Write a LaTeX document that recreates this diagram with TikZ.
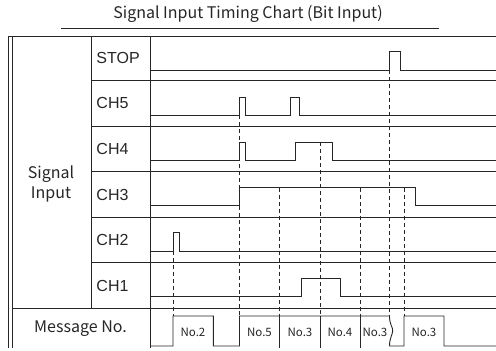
\documentclass[tikz,border=0pt]{standalone}
\usepackage{fontspec}
\setmainfont{Liberation Sans}
\newfontfamily\jpfont{Noto Sans CJK JP}
\usetikzlibrary{positioning,calc}

\tikzset{
  chname/.style={anchor=west,inner sep=0pt,font=\fontsize{16}{16}\selectfont},
  jpname/.style={inner sep=0pt,align=center,font=\jpfont\fontsize{16}{20}\selectfont},
  msgno/.style={inner sep=0pt,font=\jpfont\fontsize{11.5}{12}\selectfont},
  sync/.style={line width=.7pt,dash pattern=on 4pt off 3pt}
}

\begin{document}
\begin{tikzpicture}[x=1pt,y=-1pt,line width=.9pt,color=black!85]

  \useasboundingbox (0,0) rectangle (496,351);

  \node[jpname] (title) at (248,14) {Signal Input Timing Chart (Bit Input)};
  \coordinate (u0) at (61,28);
  \coordinate (u1) at (439,28);
  \draw[] (u0)--(u1);

  % frame
  \draw[] (8,36)--(8,348);
  \draw[] (12,36)--(12,348);
  \draw[] (8,36)--(496,36);
  \draw[] (91,36)--(91,308);
  \draw[] (150,36)--(150,348);
  \foreach \y in {80,126,171.5,217,262.5}
    \draw[] (91,\y)--(496,\y);
  \draw[] (12,308)--(496,308);

  \node[jpname] (sig) at (51,183.5) {Signal\\Input};
  \node[jpname] (msg) at (80.5,329) {Message No.};

  \node[chname] (stop) at (96,58) {STOP};
  \node[chname] (ch5) at (96,103) {CH5};
  \node[chname] (ch4) at (96,149) {CH4};
  \node[chname] (ch3) at (96,194.5) {CH3};
  \node[chname] (ch2) at (96,240) {CH2};
  \node[chname] (ch1) at (96,285.5) {CH1};

  % waveforms
  \draw[] (150,70)--(389.5,70)--(389.5,51)--(400,51)--(400,70)--(496,70);
  \draw[] (150,115)--(239.5,115)--(239.5,97)--(245.7,97)--(245.7,115)
    --(290,115)--(290,97)--(299,97)--(299,115)--(496,115);
  \draw[] (150,160.5)--(239.5,160.5)--(239.5,142)--(245.7,142)--(245.7,160.5)
    --(295,160.5)--(295,142)--(332.3,142)--(332.3,160.5)--(496,160.5);
  \draw[] (150,205.5)--(239.5,205.5)--(239.5,187.5)--(415,187.5)--(415,205.5)--(496,205.5);
  \draw[] (150,251)--(173,251)--(173,232.5)--(179,232.5)--(179,251)--(496,251);
  \draw[] (150,296)--(301.7,296)--(301.7,278)--(340.7,278)--(340.7,296)--(496,296);

  \draw[] (150,346)--(173,346)--(173,316)--(213.3,316)--(213.3,346)--(239.5,346)
    --(239.5,316)--(389.5,316)
    .. controls (389.5,325) and (393,327) .. (392.7,331)
    .. controls (392.4,335) and (389.5,338) .. (389.5,346)
    --(404,346)--(404,316)--(444,316)--(444,346)--(496,346);
  \foreach \x in {279.5,320,360}
    \draw[] (\x,316)--(\x,348);

  % sync lines
  \draw[sync] (173,251)--(173,316);
  \draw[sync] (239.5,115)--(239.5,316);
  \draw[sync] (279.5,187.5)--(279.5,316);
  \draw[sync] (320,142)--(320,316);
  \draw[sync] (360,187.5)--(360,316);
  \draw[sync] (389.5,70)--(389.5,316);
  \draw[sync] (404,187.5)--(404,316);

  \node[msgno] (n2) at (193,332) {No.2};
  \node[msgno] (n5) at (259.5,332) {No.5};
  \node[msgno] (n3a) at (300,332) {No.3};
  \node[msgno] (n4) at (340,332) {No.4};
  \node[msgno] (n3b) at (375,332) {No.3};
  \node[msgno] (n3c) at (424,332) {No.3};

\end{tikzpicture}
\end{document}
